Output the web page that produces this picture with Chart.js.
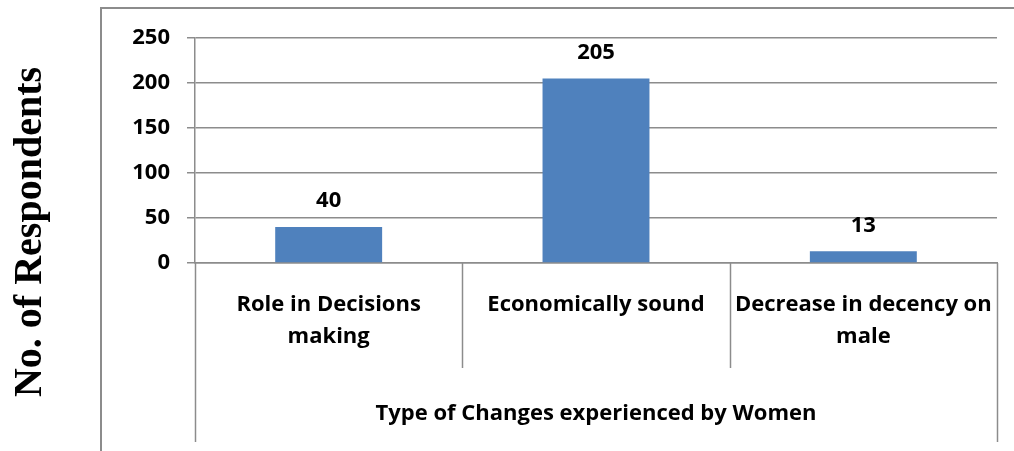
<!DOCTYPE html>
<html>
<head>
<meta charset="utf-8">
<script src="https://cdn.jsdelivr.net/npm/chart.js@4.4.1/dist/chart.umd.min.js"></script>
<style>
  html, body { margin: 0; padding: 0; background: #fff; }
  #wrap { width: 1014px; height: 451px; }
</style>
</head>
<body>
<div id="wrap"><canvas id="bar_chart" width="1014" height="451"></canvas></div>
<script>
// values
var categories = [
    ['Role in Decisions', 'making'],
    ['Economically sound'],
    ['Decrease in decency on', 'male']
];
var respondents = [40, 205, 13];
var yTicks = [0, 50, 100, 150, 200, 250];
var groupLabel = 'Type of Changes experienced by Women';
var yTitle = 'No. of Respondents';

var gridGray = '#8c8c8c';
var labelFont = '"Open Sans", sans-serif';

// borders, category separators, value labels and the titles
var decorations = {
    id: 'decorations',
    afterDraw(chart) {
        var ctx = chart.ctx;
        var area = chart.chartArea;
        var step = (area.right - area.left) / categories.length;

        ctx.save();
        ctx.strokeStyle = gridGray;
        ctx.lineWidth = 2;

        // outer frame (only top and left fall inside the picture)
        ctx.beginPath();
        ctx.moveTo(101, 451);
        ctx.lineTo(101, 8);
        ctx.lineTo(1014, 8);
        ctx.stroke();

        // separators below the axis
        ctx.lineWidth = 1.5;
        for (var i = 0; i <= categories.length; i++) {
            var px = Math.round(area.left + i * step) + 0.5;
            var outer = (i === 0 || i === categories.length);
            ctx.beginPath();
            ctx.moveTo(px, area.bottom);
            ctx.lineTo(px, outer ? 442 : 368);
            ctx.stroke();
        }

        // value labels over the bars
        ctx.fillStyle = '#000';
        ctx.font = 'bold 22px ' + labelFont;
        ctx.textAlign = 'center';
        ctx.textBaseline = 'middle';
        chart.getDatasetMeta(0).data.forEach(function (bar, idx) {
            ctx.fillText(String(respondents[idx]), bar.x, bar.y - 26);
        });

        // second level category label
        ctx.textBaseline = 'alphabetic';
        ctx.fillText(groupLabel, (area.left + area.right) / 2, 420);

        // rotated y title
        ctx.translate(41, 232);
        ctx.rotate(-Math.PI / 2);
        ctx.font = 'bold 40px "Liberation Serif", "Times New Roman", serif';
        ctx.fillText(yTitle, 0, 0);
        ctx.restore();
    }
};

var ctx = document.getElementById('bar_chart').getContext('2d');
var myChart = new Chart(ctx, {
    type: 'bar',
    data: {
        labels: categories,
        datasets: [{
            data: respondents,
            backgroundColor: '#4f81bd',
            borderWidth: 0,
            barPercentage: 0.4,
            categoryPercentage: 1.0
        }]
    },
    options: {
        responsive: false,
        animation: false,
        layout: {
            padding: { top: 38, right: 17, left: 0, bottom: 0 }
        },
        plugins: {
            legend: { display: false },
            tooltip: { enabled: false }
        },
        scales: {
            x: {
                grid: { display: false, drawTicks: false },
                border: { display: true, color: gridGray, width: 1.5 },
                ticks: {
                    color: '#000',
                    maxRotation: 0,
                    autoSkip: false,
                    padding: 26,
                    font: { family: labelFont, size: 22, weight: 'bold', lineHeight: 1.45 }
                },
                afterFit(scale) {
                    scale.height = 188;
                    scale.paddingLeft = 0;
                    scale.paddingRight = 0;
                }
            },
            y: {
                min: 0,
                max: 250,
                afterBuildTicks(scale) {
                    scale.ticks = yTicks.map(function (v) { return { value: v }; });
                },
                grid: { color: gridGray, lineWidth: 1.5, tickLength: 8 },
                border: { display: true, color: gridGray, width: 1.5 },
                ticks: {
                    color: '#000',
                    padding: 17,
                    font: { family: labelFont, size: 22, weight: 'bold' }
                },
                afterFit(scale) {
                    scale.width = 195;
                    scale.paddingTop = 0;
                    scale.paddingBottom = 0;
                }
            }
        }
    },
    plugins: [decorations]
});
</script>
</body>
</html>
